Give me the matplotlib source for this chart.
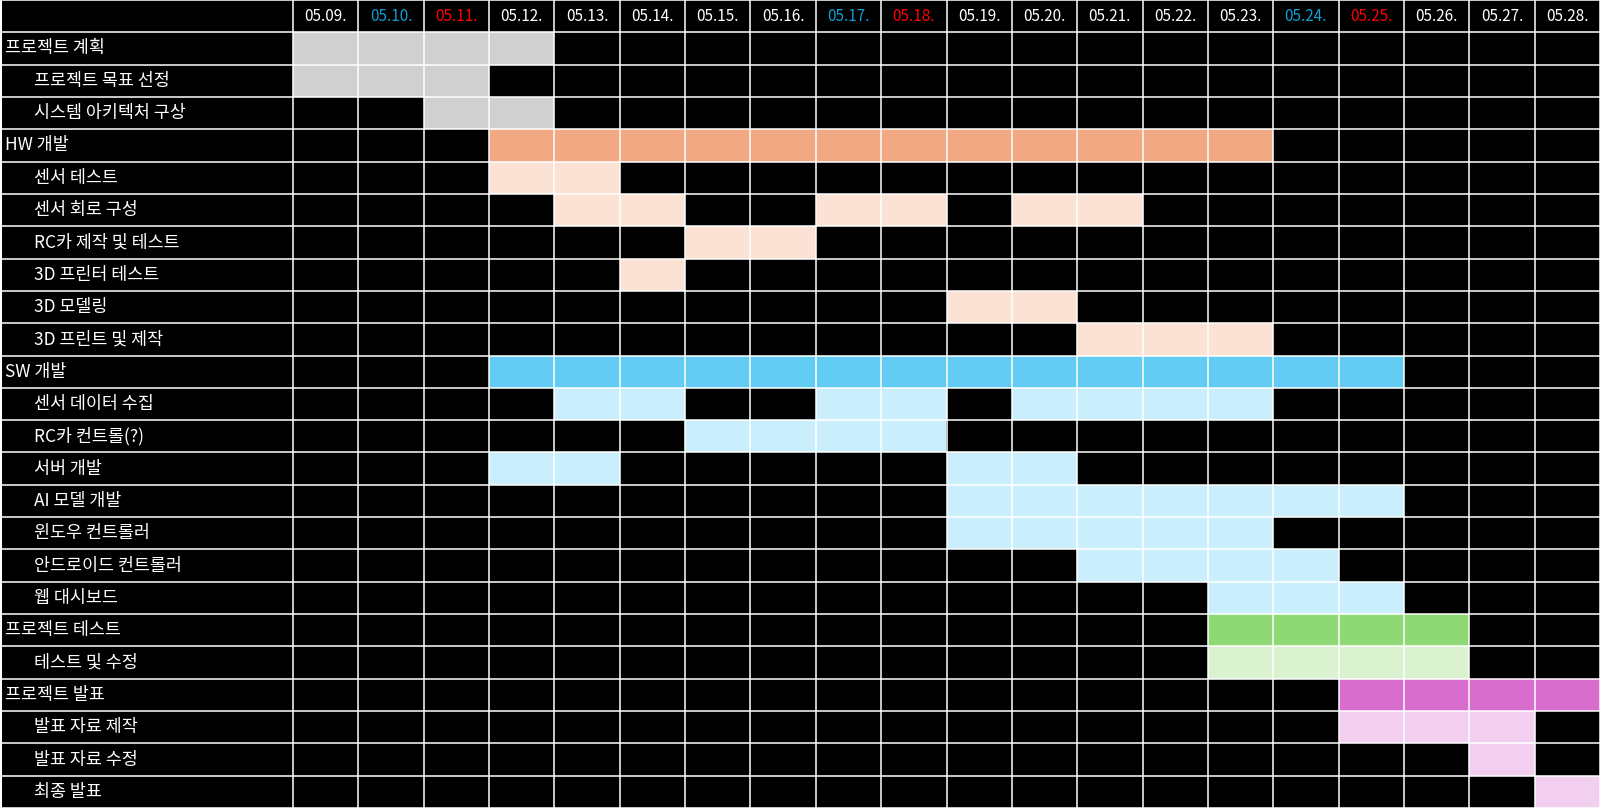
import matplotlib
matplotlib.use("Agg")
import matplotlib.pyplot as plt

plt.rcParams['font.family'] = ['Noto Sans CJK KR', 'DejaVu Sans']

dates = ['05.09.', '05.10.', '05.11.', '05.12.', '05.13.', '05.14.', '05.15.',
         '05.16.', '05.17.', '05.18.', '05.19.', '05.20.', '05.21.', '05.22.',
         '05.23.', '05.24.', '05.25.', '05.26.', '05.27.', '05.28.']
day_kind = ['wd', 'sat', 'sun', 'wd', 'wd', 'wd', 'wd', 'wd', 'sat', 'sun',
            'wd', 'wd', 'wd', 'wd', 'wd', 'sat', 'sun', 'wd', 'wd', 'wd']

tasks = ['프로젝트 계획', '프로젝트 목표 선정', '시스템 아키텍처 구상',
         'HW 개발', '센서 테스트', '센서 회로 구성', 'RC카 제작 및 테스트',
         '3D 프린터 테스트', '3D 모델링', '3D 프린트 및 제작',
         'SW 개발', '센서 데이터 수집', 'RC카 컨트롤(?)', '서버 개발',
         'AI 모델 개발', '윈도우 컨트롤러', '안드로이드 컨트롤러', '웹 대시보드',
         '프로젝트 테스트', '테스트 및 수정',
         '프로젝트 발표', '발표 자료 제작', '발표 자료 수정', '최종 발표']
levels = [0, 1, 1,
          0, 1, 1, 1, 1, 1, 1,
          0, 1, 1, 1, 1, 1, 1, 1,
          0, 1,
          0, 1, 1, 1]
groups = ['plan', 'plan', 'plan',
          'hw', 'hw', 'hw', 'hw', 'hw', 'hw', 'hw',
          'sw', 'sw', 'sw', 'sw', 'sw', 'sw', 'sw', 'sw',
          'test', 'test',
          'pres', 'pres', 'pres', 'pres']
# spans: (first date index, last date index) inclusive
spans = [
    [(0, 3)], [(0, 2)], [(2, 3)],
    [(3, 14)], [(3, 4)], [(4, 5), (8, 9), (11, 12)], [(6, 7)], [(5, 5)],
    [(10, 11)], [(12, 14)],
    [(3, 16)], [(4, 5), (8, 9), (11, 14)], [(6, 9)], [(3, 4), (10, 11)],
    [(10, 16)], [(10, 14)], [(12, 15)], [(14, 16)],
    [(14, 17)], [(14, 17)],
    [(16, 19)], [(16, 18)], [(18, 18)], [(19, 19)],
]

group_colors = {
    'plan': ('#D0D0D0', '#D0D0D0'),
    'hw': ('#F1A983', '#FBE2D5'),
    'sw': ('#61CBF3', '#CAEEFB'),
    'test': ('#8ED973', '#DAF2D0'),
    'pres': ('#D86DCD', '#F2CFEE'),
}
day_colors = {'wd': 'white', 'sat': '#0F9ED5', 'sun': '#FF0000'}

W, H, DPI = 1600, 808, 100
col_w = (W - 293) / len(dates)
label_w = 293 / col_w
n_rows = len(tasks) + 1

fig = plt.figure(figsize=(W / DPI, H / DPI), dpi=DPI, facecolor='black')
ax = fig.add_axes([0, 0, 1, 1])
ax.set_facecolor('black')
ax.set_xlim(-label_w, len(dates))
ax.set_ylim(n_rows, 0)
ax.axis('off')

for i, (task, spn) in enumerate(zip(tasks, spans)):
    row = i + 1
    dark, light = group_colors[groups[i]]
    color = dark if levels[i] == 0 else light
    for s, e in spn:
        ax.barh(row + 0.5, e - s + 1, left=s, height=1.0, color=color,
                edgecolor='none', zorder=1)
    px_off = 5 if levels[i] == 0 else 34
    ax.text(-label_w + px_off / col_w, row + 0.5, task, color='white',
            fontsize=12.5, va='center', ha='left', zorder=3)

for j, d in enumerate(dates):
    ax.text(j + 0.5, 0.52, d, color=day_colors[day_kind[j]], fontsize=11,
            va='center', ha='center', zorder=3)

lw = 1.1
for r in range(n_rows + 1):
    ax.axhline(r, color='white', lw=lw, zorder=2)
for c in range(len(dates) + 1):
    ax.axvline(c, color='white', lw=lw, zorder=2)
ax.axvline(-label_w, color='white', lw=lw * 2, zorder=2)

fig.savefig('out.png', dpi=DPI, facecolor='black')
